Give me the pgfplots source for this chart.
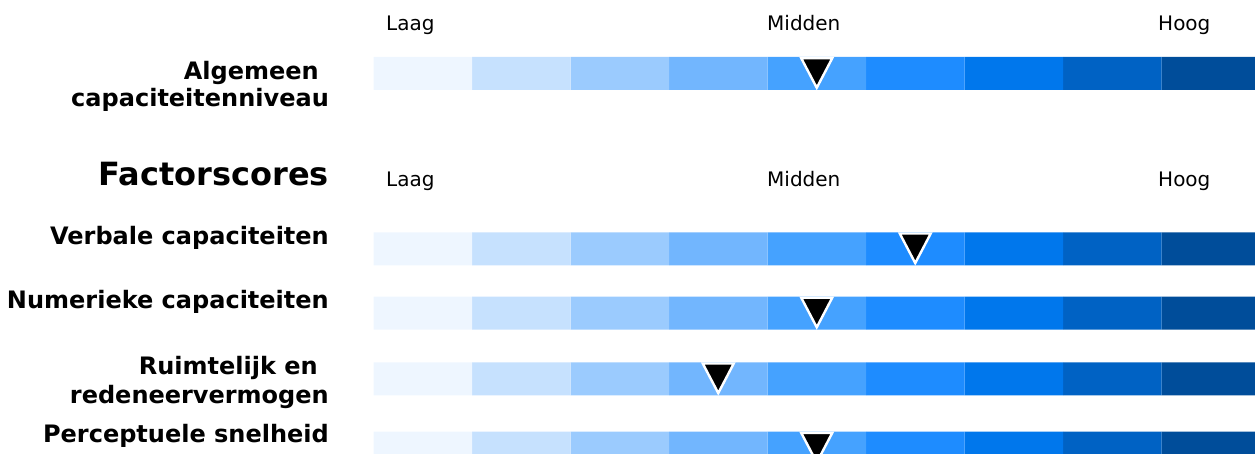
\documentclass[border=0pt]{standalone}
\usepackage{fontspec}
\setmainfont{DejaVu Sans}
\usepackage{pgfplots}
\pgfplotsset{compat=1.18}
\definecolor{c1}{RGB}{238,246,255}
\definecolor{c2}{RGB}{198,225,254}
\definecolor{c3}{RGB}{155,203,254}
\definecolor{c4}{RGB}{114,182,254}
\definecolor{c5}{RGB}{69,162,255}
\definecolor{c6}{RGB}{30,140,255}
\definecolor{c7}{RGB}{0,119,236}
\definecolor{c8}{RGB}{0,98,196}
\definecolor{c9}{RGB}{0,77,154}
\pgfdeclareplotmark{dtri}{%
  \pgfpathmoveto{\pgfqpoint{-15.5pt}{15.3pt}}%
  \pgfpathlineto{\pgfqpoint{15.5pt}{15.3pt}}%
  \pgfpathlineto{\pgfqpoint{0pt}{-14.3pt}}%
  \pgfpathclose
  \pgfusepathqfillstroke}
\newcommand{\lbl}{\fontsize{20}{24}\selectfont}
\newcommand{\blbl}{\fontsize{24}{28}\selectfont\bfseries}
\begin{document}
\begin{tikzpicture}
\pgfplotsset{myaxis/.style={at={(373.5pt,0pt)}, anchor=south west, scale only axis,
  width=886.5pt, height=454pt, xmin=0, xmax=9, ymin=0, ymax=454, y dir=reverse,
  axis lines=none, clip=false}}
\begin{axis}[myaxis, xbar stacked, bar width=33pt]
\addplot[fill=c1, draw=none] coordinates {(1,73.5) (1,248.8) (1,313) (1,378.8) (1,448.2)};
\addplot[fill=c2, draw=none] coordinates {(1,73.5) (1,248.8) (1,313) (1,378.8) (1,448.2)};
\addplot[fill=c3, draw=none] coordinates {(1,73.5) (1,248.8) (1,313) (1,378.8) (1,448.2)};
\addplot[fill=c4, draw=none] coordinates {(1,73.5) (1,248.8) (1,313) (1,378.8) (1,448.2)};
\addplot[fill=c5, draw=none] coordinates {(1,73.5) (1,248.8) (1,313) (1,378.8) (1,448.2)};
\addplot[fill=c6, draw=none] coordinates {(1,73.5) (1,248.8) (1,313) (1,378.8) (1,448.2)};
\addplot[fill=c7, draw=none] coordinates {(1,73.5) (1,248.8) (1,313) (1,378.8) (1,448.2)};
\addplot[fill=c8, draw=none] coordinates {(1,73.5) (1,248.8) (1,313) (1,378.8) (1,448.2)};
\addplot[fill=c9, draw=none] coordinates {(1,73.5) (1,248.8) (1,313) (1,378.8) (1,448.2)};
\end{axis}
\begin{axis}[myaxis]
\addplot[only marks, mark=dtri, mark options={fill=black, draw=white, line width=2.4pt}]
  coordinates {(4.5,73.5) (5.5,248.8) (4.5,313) (3.5,378.8) (4.5,448.2)};
\end{axis}
% labels (canvas y = 454 - pixel y)
\node[anchor=base west, inner sep=0pt] at (386pt,{454pt-31pt}) {\lbl Laag};
\node[anchor=base west, inner sep=0pt] at (767pt,{454pt-31pt}) {\lbl Midden};
\node[anchor=base west, inner sep=0pt] at (1158pt,{454pt-31pt}) {\lbl Hoog};
\node[anchor=base west, inner sep=0pt] at (386pt,{454pt-187pt}) {\lbl Laag};
\node[anchor=base west, inner sep=0pt] at (767pt,{454pt-187pt}) {\lbl Midden};
\node[anchor=base west, inner sep=0pt] at (1158pt,{454pt-187pt}) {\lbl Hoog};
\node[anchor=base east, inner sep=0pt] at (319pt,{454pt-80pt}) {\blbl Algemeen};
\node[anchor=base east, inner sep=0pt] at (329pt,{454pt-107pt}) {\blbl capaciteitenniveau};
\node[anchor=base east, inner sep=0pt] at (329pt,{454pt-186pt}) {\fontsize{32}{38}\selectfont\bfseries Factorscores};
\node[anchor=base east, inner sep=0pt] at (329pt,{454pt-245pt}) {\blbl Verbale capaciteiten};
\node[anchor=base east, inner sep=0pt] at (329pt,{454pt-309pt}) {\blbl Numerieke capaciteiten};
\node[anchor=base east, inner sep=0pt] at (318pt,{454pt-375pt}) {\blbl Ruimtelijk en};
\node[anchor=base east, inner sep=0pt] at (329pt,{454pt-404pt}) {\blbl redeneervermogen};
\node[anchor=base east, inner sep=0pt] at (329pt,{454pt-443pt}) {\blbl Perceptuele snelheid};
\pgfresetboundingbox
\path[use as bounding box] (0pt,0pt) rectangle (1255pt,454pt);
\end{tikzpicture}
\end{document}
